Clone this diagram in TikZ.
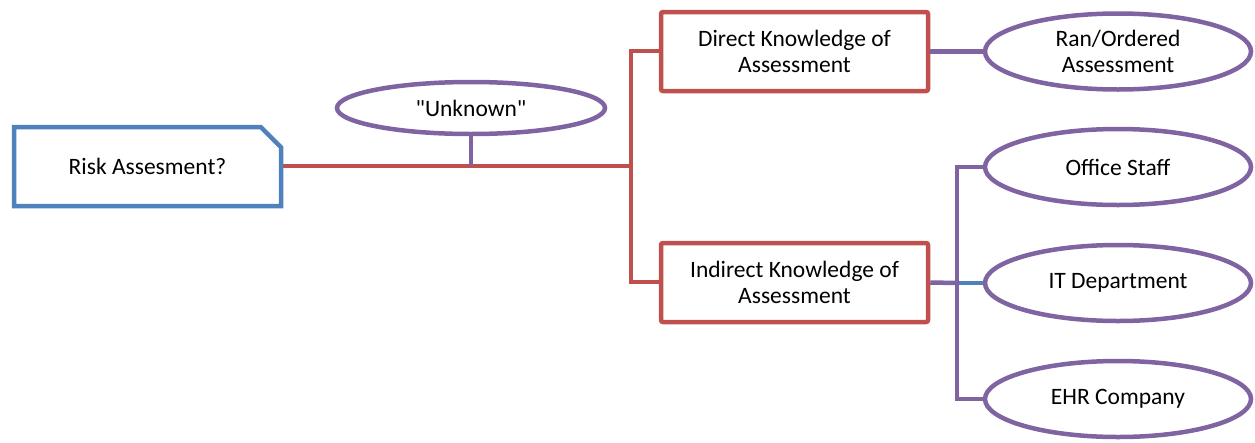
\documentclass[tikz,border=0pt]{standalone}
\usepackage{fontspec}
\newfontfamily\mapfont{Carlito}
\usetikzlibrary{shapes.geometric,shapes.misc}
\definecolor{mapred}{HTML}{C0504D}
\definecolor{mapblue}{HTML}{4F81BD}
\definecolor{mappurple}{HTML}{8064A2}
\tikzstyle{topic} = [draw=mapblue, line width=4.5pt, fill=white, chamfered rectangle, chamfered rectangle corners=north east, chamfered rectangle xsep=12pt, chamfered rectangle ysep=12pt, minimum width=267pt, minimum height=79pt, inner sep=0pt, align=center]
\tikzstyle{branch} = [draw=mapred, line width=4.5pt, fill=white, rounded corners=2pt, minimum width=267pt, minimum height=79pt, inner sep=0pt, align=center]
\tikzstyle{leaf} = [draw=mappurple, line width=4.5pt, fill=white, ellipse, minimum width=266pt, minimum height=76pt, inner sep=0pt, align=center]
\tikzstyle{redline} = [draw=mapred, line width=4.5pt]
\tikzstyle{purpleline} = [draw=mappurple, line width=4.5pt]
\tikzstyle{blueline} = [draw=mapblue, line width=4.5pt]

\begin{document}
\begin{tikzpicture}[x=1pt, y=-1pt, font=\mapfont\fontsize{23.5}{26}\selectfont]
    \useasboundingbox (0,0) rectangle (1255,442);
    \coordinate (split) at (631,166);
    \coordinate (fork) at (957,283);
    \draw[redline](147.5,166)--(split);
    \draw[redline](659,51)-|(split)|-(659,282);
    \node[topic](risk) at (147.5,166.5){Risk Assesment?};
    \node[leaf,minimum width=268pt,minimum height=52pt](unknown) at (471,108){"Unknown"};
    \draw[purpleline](unknown.south)--(unknown.south |- split);
    \node[branch](direct) at (794.5,51.5){Direct Knowledge of\\Assessment};
    \node[branch](indirect) at (794.5,282.5){Indirect Knowledge of\\Assessment};
    \node[leaf](ran) at (1118,51.5){Ran/Ordered\\Assessment};
    \node[leaf](office) at (1118,167){Office Staff};
    \node[leaf](it) at (1118,283){IT Department};
    \node[leaf](ehr) at (1118,399){EHR Company};
    \draw[purpleline](direct.east)--(ran.west);
    \draw[purpleline](indirect.east)--(fork);
    \draw[blueline](fork)--(it.west);
    \draw[purpleline](office.west)-|(fork)|-(ehr.west);
  \end{tikzpicture}
\end{document}
